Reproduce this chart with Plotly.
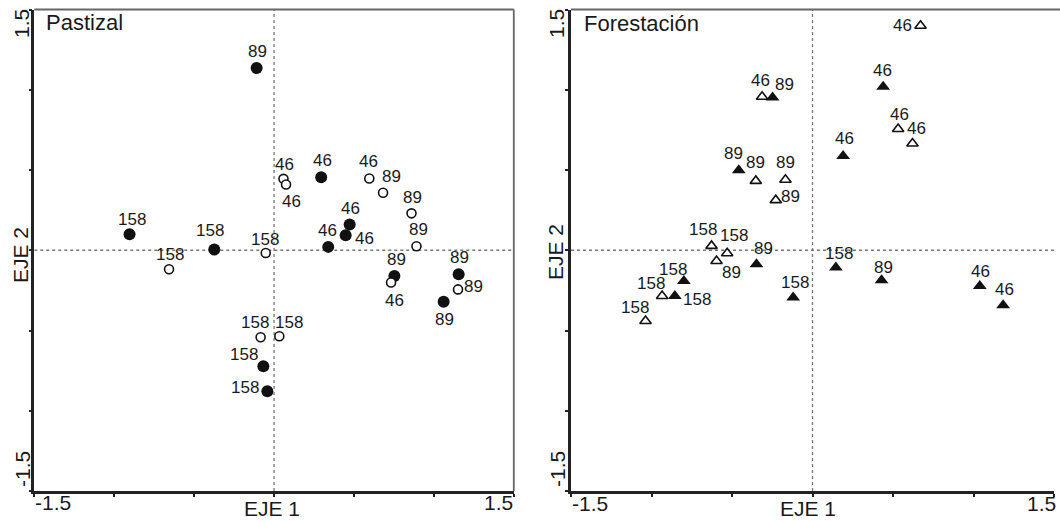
import plotly.graph_objects as go

# ---------------- data ----------------
# Pastizal (circles)
past_fill_x = [-0.109, -0.904, -0.374, 0.295, 0.473, 0.448, 0.339, 0.753, 1.155, 1.061, -0.067, -0.042]
past_fill_y = [1.135, 0.099, 0.004, 0.455, 0.161, 0.093, 0.021, -0.161, -0.149, -0.321, -0.723, -0.878]
past_fill_lab = ["89", "158", "158", "46", "46", "46", "46", "89", "89", "89", "158", "158"]

past_open_x = [0.059, 0.075, 0.596, 0.682, 0.860, 0.891, -0.052, -0.657, 0.732, 1.151, -0.084, 0.033]
past_open_y = [0.445, 0.410, 0.447, 0.358, 0.230, 0.025, -0.017, -0.118, -0.201, -0.244, -0.542, -0.536]
past_open_lab = ["46", "46", "46", "89", "89", "89", "158", "158", "46", "89", "158", "158"]

# Forestación (triangles)
fore_fill_x = [0.439, 0.190, -0.248, -0.458, -0.348, -0.799, -0.855, -0.120, 0.145, 0.429, 1.039, 1.184]
fore_fill_y = [1.019, 0.588, 0.952, 0.499, -0.087, -0.191, -0.285, -0.295, -0.108, -0.187, -0.222, -0.343]
fore_fill_lab = ["46", "46", "89", "89", "89", "158", "158", "158", "158", "89", "46", "46"]

fore_open_x = [0.671, -0.313, 0.532, 0.621, -0.352, -0.168, -0.228, -0.627, -0.530, -0.596, -0.934, -1.037]
fore_open_y = [1.399, 0.956, 0.755, 0.665, 0.432, 0.439, 0.312, 0.027, -0.019, -0.067, -0.285, -0.441]
fore_open_lab = ["46", "46", "46", "46", "89", "89", "89", "158", "158", "89", "158", "158"]

axis_end_labels = ["-1.5", "1.5"]
axis_titles = ["EJE 1", "EJE 2"]
panel_titles = ["Pastizal", "Forestación"]

# ---------------- label offsets (pixels, style) ----------------
past_fill_off = [(1, 17), (2, 15), (-4, 19), (1, 17), (1, 16), (19, -3), (-1, 16), (2, 17), (1, 17), (1, -18), (-19, 12), (-22, 4)]
past_open_off = [(1, 14), (5, -17), (-1, 17), (8, 16), (1, 16), (2, 17), (-1, 13), (1, 15), (3, -18), (15, 3), (-6, 15), (10, 14)]
fore_fill_off = [(-1, 16), (1, 17), (12, 13), (-5, 17), (7, 16), (-11, 11), (22, -4), (2, 15), (3, 14), (2, 13), (1, 14), (1, 16)]
fore_open_off = [(-18, 0), (-2, 16), (1, 15), (4, 15), (0, 18), (0, 17), (15, 4), (-9, 16), (7, 18), (15, -11), (-11, 12), (-11, 14)]

W, H = 1060, 522
FONT = "Liberation Sans, Arial, sans-serif"
INK = "#1a1a1a"


def px(v):
    return v / W


def py(v):
    return 1 - v / H


L_DOM = [34.3 / W, 513.8 / W]
R_DOM = [571 / W, 1054 / W]
Y_DOM = [1 - 491 / H, 1 - 9.5 / H]

fig = go.Figure()

# Pastizal
fig.add_trace(go.Scatter(x=past_fill_x, y=past_fill_y, mode="markers",
                         marker=dict(symbol="circle", size=12, color="#111111",
                                     line=dict(width=0)),
                         xaxis="x", yaxis="y", hoverinfo="skip"))
fig.add_trace(go.Scatter(x=past_open_x, y=past_open_y, mode="markers",
                         marker=dict(symbol="circle", size=9, color="white",
                                     line=dict(width=1.6, color="#111111")),
                         xaxis="x", yaxis="y", hoverinfo="skip"))
# Forestación
fig.add_trace(go.Scatter(x=fore_fill_x, y=fore_fill_y, mode="markers",
                         marker=dict(symbol="triangle-up", size=12, color="#111111",
                                     line=dict(width=0)),
                         xaxis="x2", yaxis="y2", hoverinfo="skip"))
fig.add_trace(go.Scatter(x=fore_open_x, y=fore_open_y, mode="markers",
                         marker=dict(symbol="triangle-up", size=10, color="white",
                                     line=dict(width=1.6, color="#111111")),
                         xaxis="x2", yaxis="y2", hoverinfo="skip"))

annotations = []


def add_labels(xs, ys, labs, offs, xr, yr):
    for x, y, t, (dx, dy) in zip(xs, ys, labs, offs):
        annotations.append(dict(x=x, y=y, xref=xr, yref=yr, text=t, showarrow=False,
                                xshift=dx, yshift=dy, xanchor="center", yanchor="middle",
                                font=dict(family=FONT, size=17, color=INK)))


add_labels(past_fill_x, past_fill_y, past_fill_lab, past_fill_off, "x", "y")
add_labels(past_open_x, past_open_y, past_open_lab, past_open_off, "x", "y")
add_labels(fore_fill_x, fore_fill_y, fore_fill_lab, fore_fill_off, "x2", "y2")
add_labels(fore_open_x, fore_open_y, fore_open_lab, fore_open_off, "x2", "y2")


def txt(t, xc, yc, size=21, angle=0, xanchor="center"):
    annotations.append(dict(x=px(xc), y=py(yc), xref="paper", yref="paper", text=t,
                            showarrow=False, textangle=angle, xanchor=xanchor,
                            yanchor="middle",
                            font=dict(family=FONT, size=size, color=INK)))


# Left panel axis text
txt(axis_end_labels[0], 53, 502)
txt(axis_end_labels[1], 498, 502)
txt(axis_titles[0], 272, 508)
txt(axis_end_labels[1], 22, 24, angle=-90)
txt(axis_end_labels[0], 22, 469, angle=-90)
txt(axis_titles[1], 20, 255, angle=-90)
txt(panel_titles[0], 44, 22, size=22, xanchor="left")
# Right panel axis text
txt(axis_end_labels[0], 590, 503)
txt(axis_end_labels[1], 1041, 503)
txt(axis_titles[0], 808, 508)
txt(axis_end_labels[1], 557, 24, angle=-90)
txt(axis_end_labels[0], 557, 469, angle=-90)
txt(axis_titles[1], 555, 252, angle=-90)
txt(panel_titles[1], 582, 24, size=22, xanchor="left")

shapes = []
# dotted zero lines
for xr, yr in (("x", "y"), ("x2", "y2")):
    shapes.append(dict(type="line", xref=xr, yref=yr, x0=0, x1=0, y0=-1.5, y1=1.5,
                       line=dict(color="#777777", width=1.3, dash="dot"), layer="below"))
    shapes.append(dict(type="line", xref=xr, yref=yr, x0=-1.5, x1=1.5, y0=0, y1=0,
                       line=dict(color="#777777", width=1.3, dash="dot"), layer="below"))
# frame top / right lines
shapes.append(dict(type="line", xref="paper", yref="paper", x0=L_DOM[0], x1=L_DOM[1],
                   y0=Y_DOM[1], y1=Y_DOM[1], line=dict(color="#666666", width=1.8)))
shapes.append(dict(type="line", xref="paper", yref="paper", x0=L_DOM[1], x1=L_DOM[1],
                   y0=Y_DOM[0], y1=Y_DOM[1], line=dict(color="#666666", width=1.8)))
shapes.append(dict(type="line", xref="paper", yref="paper", x0=R_DOM[0], x1=1.0,
                   y0=Y_DOM[1], y1=Y_DOM[1], line=dict(color="#666666", width=1.8)))

ticks = [-1.5, -1.0, -0.5, 0.0, 0.5, 1.0, 1.5]
ax_common = dict(range=[-1.5, 1.5], showgrid=False, zeroline=False, showline=True,
                 linecolor="#222222", linewidth=2.5, ticks="outside", tickvals=ticks,
                 ticklen=3, tickwidth=2, tickcolor="#222222", showticklabels=False,
                 fixedrange=True)

fig.update_layout(
    width=W, height=H,
    margin=dict(l=0, r=0, t=0, b=0),
    paper_bgcolor="white", plot_bgcolor="white",
    showlegend=False,
    xaxis=dict(domain=L_DOM, anchor="y", **ax_common),
    yaxis=dict(domain=Y_DOM, anchor="x", **ax_common),
    xaxis2=dict(domain=R_DOM, anchor="y2", **ax_common),
    yaxis2=dict(domain=Y_DOM, anchor="x2", **ax_common),
    annotations=annotations,
    shapes=shapes,
)

fig.write_html("out.html")
